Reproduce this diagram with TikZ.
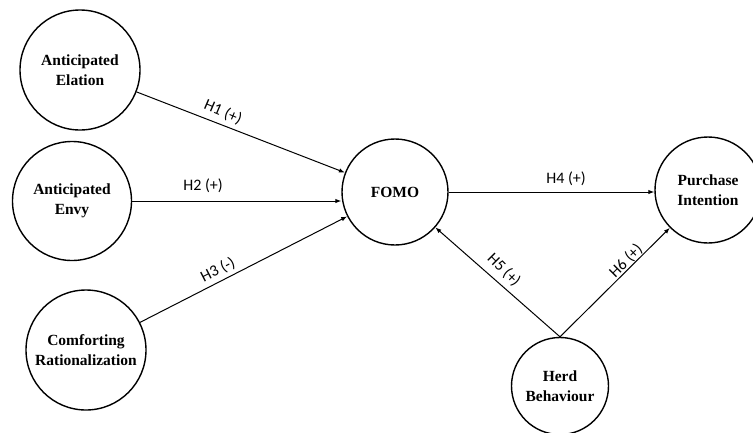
\documentclass[tikz,border=0pt]{standalone}
\usepackage{fontspec}
\setmainfont{Liberation Serif}
\newfontfamily\labfont{Carlito}
\usetikzlibrary{arrows.meta}
\begin{document}
\begin{tikzpicture}[x=1pt,y=-1pt,
  var/.style={circle,draw,line width=1.4pt,inner sep=0pt,align=center,
    font=\fontsize{15.5}{20}\selectfont\bfseries},
  conn/.style={line width=1pt,-{Latex[length=6pt,width=4.5pt]}},
  hlab/.style={font=\labfont\fontsize{16}{18}\selectfont,inner sep=0pt}]
\useasboundingbox (0,0) rectangle (753,432);
\node[var,minimum size=120pt] (ae) at (80,70) {Anticipated\\Elation};
\node[var,minimum size=119pt] (aenv) at (72,201) {Anticipated\\Envy};
\node[var,minimum size=120pt] (cr) at (86,350) {Comforting\\Rationalization};
\node[var,minimum size=106pt] (fomo) at (395,192) {FOMO};
\node[var,minimum size=106pt] (pi) at (708,190) {Purchase\\Intention};
\node[var,minimum size=97pt] (hb) at (560,386) {Herd\\Behaviour};
\draw[conn] (ae) -- (fomo);
\draw[conn] (aenv.east) -- (fomo.west |- aenv.east);
\draw[conn] (cr) -- (fomo);
\draw[conn] (fomo.east) -- (pi.west |- fomo.east);
\draw[conn] (hb.north) -- (fomo);
\draw[conn] (hb.north) -- (pi);
\node[hlab,rotate=-23] (h1) at (223,112) {H1 (+)};
\node[hlab] (h2) at (203,186) {H2 (+)};
\node[hlab,rotate=27] (h3) at (218,270) {H3 (-)};
\node[hlab] (h4) at (566,179) {H4 (+)};
\node[hlab,rotate=-45] (h5) at (504,270) {H5 (+)};
\node[hlab,rotate=45] (h6) at (626,261) {H6 (+)};
\end{tikzpicture}
\end{document}
